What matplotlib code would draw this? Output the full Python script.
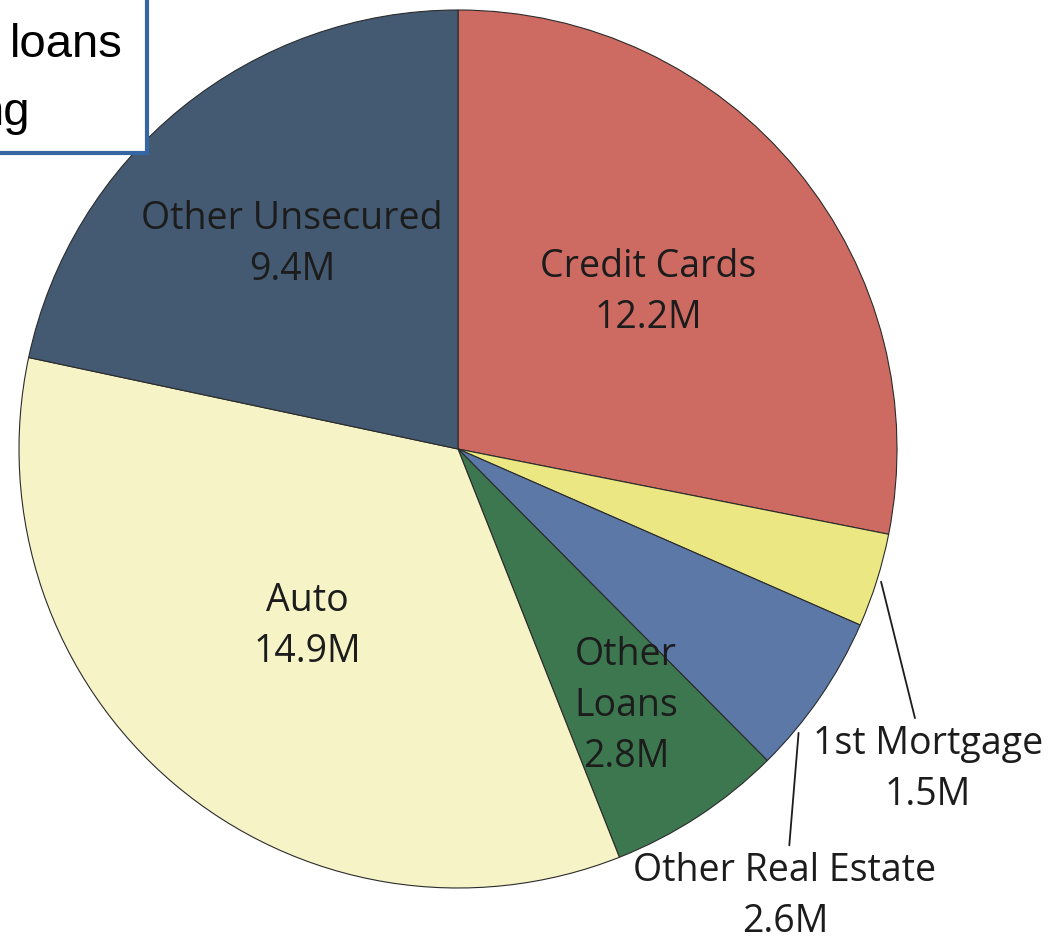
import numpy as np
import matplotlib
matplotlib.use("Agg")
import matplotlib.pyplot as plt
from matplotlib.patches import Rectangle

# loan categories, clockwise from 12 o'clock
categories = ["Credit Cards", "1st Mortgage", "Other Real Estate",
              "Other Loans", "Auto", "Other Unsecured"]
values = [12.2, 1.5, 2.6, 2.8, 14.9, 9.4]   # millions
value_labels = ["12.2M", "1.5M", "2.6M", "2.8M", "14.9M", "9.4M"]
label_text = ["Credit Cards", "1st Mortgage", "Other Real Estate",
              "Other\nLoans", "Auto", "Other Unsecured"]

colors = ["#cd6b62", "#ebe782", "#5b78a7", "#3d7750", "#f6f4c6", "#435a72"]

W, H = 1049, 944
fig = plt.figure(figsize=(W / 100, H / 100), dpi=100)
fig.patch.set_facecolor("white")

# pie centre / radius in pixels
cx, cy, R = 458, 449, 439
ax = fig.add_axes([(cx - R) / W, (H - cy - R) / H, 2 * R / W, 2 * R / H])

wedges, _ = ax.pie(values, colors=colors, startangle=90, counterclock=False,
                   radius=1.0,
                   wedgeprops=dict(edgecolor="#2b2b2b", linewidth=0.8))
ax.set_xlim(-1, 1)
ax.set_ylim(-1, 1)
ax.set_aspect("equal")
ax.axis("off")

font = dict(family="Open Sans", fontsize=27, color="#1c1c1c",
            ha="center", va="center", linespacing=1.45)

# inside labels: radius as fraction of pie radius
inside = {0: 0.56, 3: 0.7, 4: 0.53, 5: 0.6}
for i, r in inside.items():
    w = wedges[i]
    ang = np.deg2rad((w.theta1 + w.theta2) / 2)
    ax.text(r * np.cos(ang), r * np.sin(ang),
            label_text[i] + "\n" + value_labels[i], **font)

# small slices get a leader line and an outside label
# (where along the wedge the line starts, text position)
outside = {1: (0.5, (1.07, -0.73)), 2: (0.75, (0.745, -1.02))}
for i, (frac, (tx, ty)) in outside.items():
    w = wedges[i]
    ang = np.deg2rad(w.theta2 + frac * (w.theta1 - w.theta2))
    ax.annotate(label_text[i] + "\n" + value_labels[i],
                xy=(1.01 * np.cos(ang), 1.01 * np.sin(ang)),
                xytext=(tx, ty), annotation_clip=False,
                arrowprops=dict(arrowstyle="-", color="#1c1c1c", lw=1.3,
                                shrinkA=3, shrinkB=0),
                **font)

# slide text box in the upper left corner
fig.patches.append(Rectangle((-20 / W, 1 - 153 / H), 167 / W, 173 / H,
                             transform=fig.transFigure, facecolor="white",
                             edgecolor="#3566a3", linewidth=3, zorder=5))
fig.text(123 / W, 1 - 57 / H, "loans", family="Liberation Sans",
         fontsize=34, ha="right", va="baseline", color="black", zorder=6)
fig.text(30 / W, 1 - 125 / H, "ng", family="Liberation Sans",
         fontsize=34, ha="right", va="baseline", color="black", zorder=6)

fig.savefig("out.png", dpi=100)
